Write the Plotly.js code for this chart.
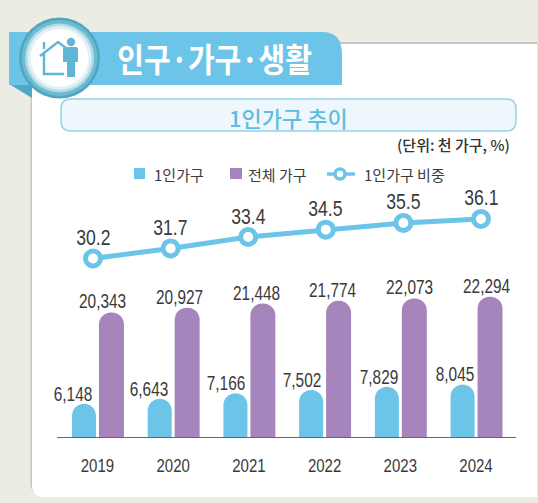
<!DOCTYPE html>
<html>
<head>
<meta charset="utf-8">
<script src="https://cdn.plot.ly/plotly-3.0.1.min.js"></script>
<style>html,body{margin:0;padding:0;background:#ecebe4;overflow:hidden}#c{width:538px;height:503px}</style>
</head>
<body>
<div id="c"></div>
<script>
const years = ['2019','2020','2021','2022','2023','2024'];
const singleHouseholds = [6148,6643,7166,7502,7829,8045];
const totalHouseholds = [20343,20927,21448,21774,22073,22294];
const singleShare = [30.2,31.7,33.4,34.5,35.5,36.1];
const seriesNames = ['1인가구','전체 가구','1인가구 비중'];

const W = 538, H = 503;
const BLUE = '#6cc4e8', PURPLE = '#a585bc', DARK = '#3a3a3a', ICON = '#5fb6d6';
const NUM = '"Liberation Sans",sans-serif';
const KR = '"Noto Sans CJK KR","Noto Sans",sans-serif';
const px = x => x / W, py = y => 1 - y / H;
const rect = (x0, y0, x1, y1, fill) => ({type:'rect',xref:'paper',yref:'paper',layer:'below',x0:px(x0),x1:px(x1),y0:py(y0),y1:py(y1),fillcolor:fill,line:{width:0}});
const circle = (cx, cy, r, fill, line) => ({type:'circle',xref:'paper',yref:'paper',xsizemode:'pixel',ysizemode:'pixel',xanchor:px(cx),yanchor:py(cy),x0:-r,x1:r,y0:-r,y1:r,fillcolor:fill,line:line||{width:0},layer:'below'});
const pathShape = (pts, fill, line) => ({type:'path',xref:'paper',yref:'paper',layer:'below',
  path: pts.map(p => typeof p === 'string' ? p : `${p[0]/W},${1-p[1]/H}`).join(' ').replace(/([MLQZ]) /g,'$1'),
  fillcolor: fill || 'rgba(0,0,0,0)', line: line || {width:0}});

const card = (dx, dy, fill) => pathShape(['M',[32+dx,42+dy],'L',[560,42+dy],'L',[560,495+dy],'L',[44+dx,495+dy],'Q',[32+dx,495+dy],[32+dx,483+dy],'Z'], fill);
const shapes = [
  card(-1.5,0,'#c8c7bf'),
  card(0,1.5,'#c8c7bf'),
  card(0,2,'#ffffff'),
  rect(537,40,538,503,'#ecebe4'),
  pathShape(['M',[9,84],'L',[32,84],'L',[32,98],'Z'],'#4ea9c6'),
  pathShape(['M',[9,32],'L',[322,32],'Q',[342,32],[342,54],'L',[342,85],'L',[9,85],'Z'],BLUE),
  circle(59.5,58,40.5,'#4fa7bf'),
  circle(59.5,58,38,'#6dbbd0'),
  circle(59.5,58,34.5,'#b4dce8'),
  circle(59.5,58,32,'#e0f0f5'),
  circle(59.5,58,29,'#ffffff'),
  pathShape(['M',[40,56],'L',[58,42],'L',[66,48],'M',[44,53],'L',[44,74],'L',[64,74],'M',[44,42],'L',[44,49]],null,{color:ICON,width:2.4}),
  circle(71,42,4.2,ICON),
  pathShape(['M',[65,47],'L',[76,47],'Q',[78,47],[78,50],'L',[78,62],'L',[75,62],'L',[75,77],'L',[67,77],'L',[67,62],'L',[63,62],'L',[63,50],'Q',[63,47],[65,47],'Z'],ICON),
  pathShape(['M',[71,99],'L',[506,99],'Q',[516,99],[516,109],'L',[516,121],'Q',[516,131],[506,131],'L',[71,131],'Q',[61,131],[61,121],'L',[61,109],'Q',[61,99],[71,99],'Z'],'#eef8fc',{color:'#93d2e9',width:1.5}),
  rect(134,168,145,179,BLUE),
  rect(230,168,242,179,PURPLE),
  pathShape(['M',[327,174],'L',[355,174]],null,{color:BLUE,width:3.5}),
  circle(340,174,5,'#ffffff',{color:BLUE,width:3.5})
];

const dataLabels = [];
years.forEach((yr, i) => {
  dataLabels.push({x:i,xref:'x',y:singleHouseholds[i],yref:'y',text:singleHouseholds[i].toLocaleString('en-US'),showarrow:false,xanchor:'center',yanchor:'middle',xshift:-24.5+i*0.7,yshift:10,font:{family:NUM,size:20,color:DARK}});
  dataLabels.push({x:i,xref:'x',y:totalHouseholds[i],yref:'y2',text:totalHouseholds[i].toLocaleString('en-US'),showarrow:false,xanchor:'center',yanchor:'middle',xshift:5.5+i*0.9,yshift:11,font:{family:NUM,size:20,color:DARK}});
  dataLabels.push({x:i,xref:'x2',y:singleShare[i],yref:'y3',text:singleShare[i].toFixed(1),showarrow:false,xanchor:'center',yanchor:'middle',yshift:21,font:{family:NUM,size:22,color:DARK}});
});

const textNotes = [
  {text:'인구·가구·생활',x:214,y:58,size:33,weight:700,color:'#ffffff',anchor:'center'},
  {text:'1인가구 추이',x:288.5,y:117,size:22,weight:500,color:'#62bbdf',anchor:'center'},
  {text:'(단위: 천 가구, %)',x:512,y:144,size:15,weight:500,color:'#333333',anchor:'right'},
  {text:seriesNames[0],x:152,y:174,size:15,weight:400,color:'#3c3c3c',anchor:'left'},
  {text:seriesNames[1],x:246,y:174,size:15,weight:400,color:'#3c3c3c',anchor:'left'},
  {text:seriesNames[2],x:362,y:174,size:15,weight:400,color:'#3c3c3c',anchor:'left'}
].map(t => ({xref:'paper',yref:'paper',x:px(t.x),y:py(t.y),text:t.text,showarrow:false,xanchor:t.anchor,yanchor:'middle',font:{family:KR,size:t.size,color:t.color,weight:t.weight}}));

const traces = [
  {type:'bar',name:seriesNames[0],x:years,y:singleHouseholds,xaxis:'x',yaxis:'y',width:0.317,offset:-0.336,marker:{color:BLUE,cornerradius:12}},
  {type:'bar',name:seriesNames[1],x:years,y:totalHouseholds,xaxis:'x',yaxis:'y2',width:0.33,offset:0.02,marker:{color:PURPLE,cornerradius:12}},
  {type:'scatter',name:seriesNames[2],mode:'lines+markers',x:years,y:singleShare,xaxis:'x2',yaxis:'y3',line:{color:BLUE,width:5},marker:{size:15,color:'#ffffff',line:{color:BLUE,width:5}}}
];

const dom = [px(57), px(516)];
const ydom = [py(437), py(180)];
const layout = {
  width:W,height:H,margin:{l:0,r:0,t:0,b:0},
  paper_bgcolor:'#ecebe4',plot_bgcolor:'rgba(0,0,0,0)',
  showlegend:false,
  xaxis:{type:'category',domain:dom,range:[-0.534,5.528],anchor:'y',showgrid:false,zeroline:false,showline:true,linecolor:'#666666',linewidth:1.2,ticks:'outside',ticklen:11,tickcolor:'rgba(0,0,0,0)',tickfont:{family:NUM,size:19,color:DARK},fixedrange:true},
  xaxis2:{type:'category',domain:dom,range:[-0.464,5.451],anchor:'y3',overlaying:'x',visible:false,fixedrange:true},
  yaxis:{domain:ydom,range:[2867,28187],anchor:'x',visible:false,fixedrange:true},
  yaxis2:{domain:ydom,range:[4968,36696],anchor:'x',overlaying:'y',visible:false,fixedrange:true},
  yaxis3:{domain:ydom,range:[3.55,41.91],anchor:'x2',overlaying:'y',visible:false,fixedrange:true},
  shapes:shapes,
  annotations:dataLabels.concat(textNotes)
};
Plotly.newPlot('c',traces,layout,{displayModeBar:false,staticPlot:true}).then(gd => {
  // the reference uses condensed lettering: squeeze the numerals and the ribbon title horizontally
  const squeeze = (el, f) => { const len = el.getComputedTextLength(); el.setAttribute('textLength', len * f); el.setAttribute('lengthAdjust','spacingAndGlyphs'); };
  gd.querySelectorAll('.annotation-text').forEach(el => {
    const t = el.textContent;
    if (/^[\d.,]+$/.test(t)) squeeze(el, t.length === 4 ? 0.8 : 0.77);
    else if (t === '인구·가구·생활') squeeze(el, 0.88);
  });
  gd.querySelectorAll('.xtick text').forEach(el => squeeze(el, 0.79));
});
</script>
</body>
</html>
